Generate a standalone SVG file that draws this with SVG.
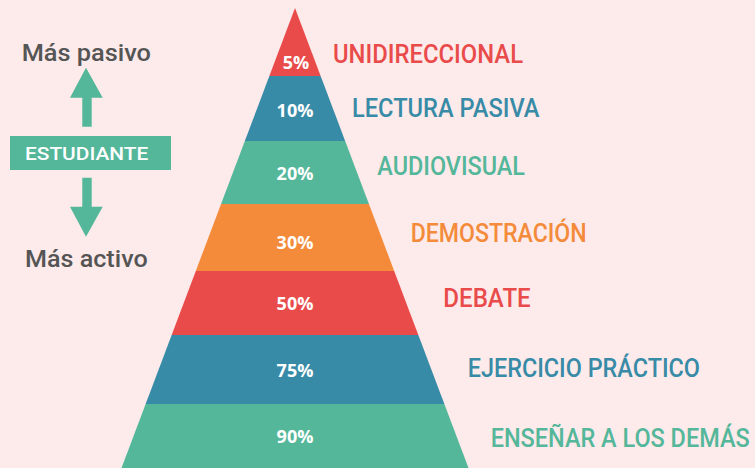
<svg xmlns="http://www.w3.org/2000/svg" width="755" height="468" viewBox="0 0 755 468">
<style>
.pct{font-family:"Open Sans","DejaVu Sans",sans-serif;font-weight:bold;font-size:18px;fill:#ffffff;text-anchor:middle}
.lbl{font-family:Roboto,"Liberation Sans",sans-serif;font-size:25px;font-weight:500}
.side{font-family:Roboto,"Liberation Sans",sans-serif;font-size:24px;font-weight:500;fill:#555555}
.red{fill:#E94B4B}.blue{fill:#388BA7}.green{fill:#54B79A}.orange{fill:#F38B3A}
</style>
<rect width="755" height="468" fill="#FDEAEA"/>
<g id="level-5">
<polygon class="red" points="295,8 320.65,76 269.35,76"/>
<text class="pct" x="296" y="69">5%</text>
<text class="lbl red" x="333" y="63.3" textLength="190" lengthAdjust="spacingAndGlyphs">UNIDIRECCIONAL</text>
</g>
<g id="level-10">
<polygon class="blue" points="269.35,76 320.65,76 345.16,141 244.84,141"/>
<text class="pct" x="295" y="116.7">10%</text>
<text class="lbl blue" x="352" y="117.3" textLength="187.5" lengthAdjust="spacingAndGlyphs">LECTURA PASIVA</text>
</g>
<g id="level-20">
<polygon class="green" points="244.84,141 345.16,141 368.93,204 221.07,204"/>
<text class="pct" x="295" y="180">20%</text>
<text class="lbl green" x="377.3" y="175" textLength="147.7" lengthAdjust="spacingAndGlyphs">AUDIOVISUAL</text>
</g>
<g id="level-30">
<polygon class="orange" points="221.07,204 368.93,204 394.2,271 195.8,271"/>
<text class="pct" x="295" y="249">30%</text>
<text class="lbl orange" x="410.7" y="241.7" textLength="176" lengthAdjust="spacingAndGlyphs">DEMOSTRACIÓN</text>
</g>
<g id="level-50">
<polygon class="red" points="195.8,271 394.2,271 418.33,335 171.67,335"/>
<text class="pct" x="295" y="310">50%</text>
<text class="lbl red" x="443.3" y="306.7" textLength="87.4" lengthAdjust="spacingAndGlyphs">DEBATE</text>
</g>
<g id="level-75">
<polygon class="blue" points="171.67,335 418.33,335 444.36,404 145.64,404"/>
<text class="pct" x="295" y="377.3">75%</text>
<text class="lbl blue" x="467.7" y="377.3" textLength="232.3" lengthAdjust="spacingAndGlyphs">EJERCICIO PRÁCTICO</text>
</g>
<g id="level-90">
<polygon class="green" points="145.64,404 444.36,404 468.5,468 121.5,468"/>
<text class="pct" x="295" y="442.7">90%</text>
<text class="lbl green" x="0" y="0" style="font-size:22px" transform="translate(490.7 446.7) scale(1 1.136)" textLength="259" lengthAdjust="spacingAndGlyphs">ENSEÑAR A LOS DEMÁS</text>
</g>
<g id="mas-pasivo">
<text class="side" x="21.7" y="60.7" textLength="129.3" lengthAdjust="spacingAndGlyphs">Más pasivo</text>
</g>
<g id="estudiante">
<rect x="10" y="136" width="161" height="34" fill="#54B79A"/>
<text x="25" y="160" font-family="Roboto,'Liberation Sans',sans-serif" font-size="19" font-weight="500" fill="#ffffff" textLength="123.3" lengthAdjust="spacingAndGlyphs">ESTUDIANTE</text>
</g>
<g id="mas-activo">
<text class="side" x="25" y="267.3" textLength="122.7" lengthAdjust="spacingAndGlyphs">Más activo</text>
</g>
<g id="connectors">
<polygon class="green" points="86,67.7 102.7,97.7 91.7,97.7 91.7,126.7 82.3,126.7 82.3,97.7 70,97.7"/>
<polygon class="green" points="82.3,177.7 91.7,177.7 91.7,206.7 102.7,206.7 86,236.7 70,206.7 82.3,206.7"/>
</g>
</svg>
